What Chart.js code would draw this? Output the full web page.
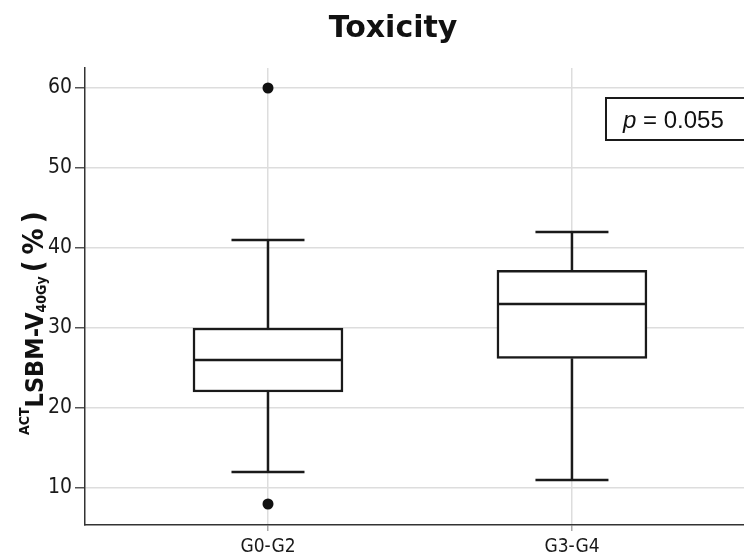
<!DOCTYPE html>
<html>
<head>
<meta charset="utf-8">
<script src="https://cdn.jsdelivr.net/npm/chart.js@4.4.1/dist/chart.umd.min.js"></script>
<style>
  html, body { margin: 0; padding: 0; background: #fff; }
  #wrap { width: 744px; height: 560px; }
</style>
</head>
<body>
<div id="wrap"><canvas id="boxChart" width="744" height="560"></canvas></div>
<script>
// box plot summary per group
const groups = ['G0-G2', 'G3-G4'];
const whiskerLow = [12, 11];
const q1 = [22, 26.2];
const median = [26, 33];
const q3 = [30, 37.2];
const whiskerHigh = [41, 42];

// outliers
const outlierGroup = ['G0-G2', 'G0-G2'];
const outlierValue = [60, 8];

const yTicks = [10, 20, 30, 40, 50, 60];
const pValue = '0.055';

const sansCond = '"DejaVu Sans Condensed", "DejaVu Sans", sans-serif';
const ink = '#1a1a1a';
const boxWidth = 150;
const capWidth = 73;

const groupPos = groups.map((g, i) => i + 1);

const boxExtras = {
    id: 'boxExtras',
    afterDatasetsDraw(chart) {
        const { ctx, scales: { x, y } } = chart;
        ctx.save();
        ctx.strokeStyle = ink;
        ctx.lineWidth = 2.5;
        const seg = (x1, y1, x2, y2) => {
            ctx.beginPath();
            ctx.moveTo(x1, y1);
            ctx.lineTo(x2, y2);
            ctx.stroke();
        };
        groups.forEach((g, i) => {
            const cx = x.getPixelForValue(groupPos[i]);
            const my = y.getPixelForValue(median[i]);
            const hy = y.getPixelForValue(whiskerHigh[i]);
            const ly = y.getPixelForValue(whiskerLow[i]);
            seg(cx - boxWidth / 2 + 1, my, cx + boxWidth / 2 - 1, my);
            seg(cx, y.getPixelForValue(q3[i]), cx, hy);
            seg(cx, y.getPixelForValue(q1[i]), cx, ly);
            seg(cx - capWidth / 2, hy, cx + capWidth / 2, hy);
            seg(cx - capWidth / 2, ly, cx + capWidth / 2, ly);
        });
        ctx.restore();
    }
};

const annotations = {
    id: 'annotations',
    afterDraw(chart) {
        const { ctx, scales: { x, y } } = chart;
        ctx.save();

        // title
        ctx.fillStyle = '#111';
        ctx.font = 'bold 30px "DejaVu Sans", sans-serif';
        ctx.textAlign = 'center';
        ctx.textBaseline = 'alphabetic';
        ctx.fillText('Toxicity', 393, 37);

        // y axis title, rotated, with super/subscripts
        const parts = [
            { text: 'ACT', size: 14, shift: -14, gap: 0 },
            { text: 'LSBM-V', size: 25, shift: 0, gap: 0 },
            { text: '40Gy', size: 14, shift: 3, gap: 0 },
            { text: '(', size: 29, shift: 0, gap: 4 },
            { text: '%', size: 29, shift: 0, gap: 6 },
            { text: ')', size: 29, shift: 0, gap: 5 }
        ];
        ctx.save();
        ctx.translate(43, 435);
        ctx.rotate(-Math.PI / 2);
        ctx.textAlign = 'left';
        let pos = 0;
        parts.forEach(p => {
            ctx.font = `bold ${p.size}px ${sansCond}`;
            pos += p.gap;
            ctx.fillText(p.text, pos, p.shift);
            pos += ctx.measureText(p.text).width;
        });
        ctx.restore();

        // p-value box
        const bx = x.getPixelForValue(2.112);
        const by = y.getPixelForValue(58.75);
        const bh = y.getPixelForValue(53.5) - by;
        ctx.fillStyle = '#fff';
        ctx.fillRect(bx, by, chart.width - bx + 10, bh);
        ctx.strokeStyle = ink;
        ctx.lineWidth = 2;
        ctx.strokeRect(bx, by, chart.width - bx + 10, bh);
        ctx.fillStyle = '#111';
        ctx.textAlign = 'left';
        ctx.font = 'italic 24px "Liberation Sans", sans-serif';
        let tx = bx + 17;
        ctx.fillText('p', tx, by + 30);
        tx += ctx.measureText('p').width;
        ctx.font = '24px "Liberation Sans", sans-serif';
        ctx.fillText(' = ' + pValue, tx, by + 30);

        ctx.restore();
    }
};

new Chart(document.getElementById('boxChart'), {
    type: 'bar',
    data: {
        datasets: [
            {
                type: 'bar',
                data: groups.map((g, i) => ({ x: groupPos[i], y: [q1[i], q3[i]] })),
                backgroundColor: '#ffffff',
                borderColor: ink,
                borderWidth: 2.5,
                borderSkipped: false,
                barThickness: boxWidth,
                grouped: false
            },
            {
                type: 'scatter',
                data: outlierGroup.map((g, k) => ({ x: groupPos[groups.indexOf(g)], y: outlierValue[k] })),
                pointRadius: 5.5,
                pointBackgroundColor: '#111',
                pointBorderWidth: 0
            }
        ]
    },
    options: {
        responsive: false,
        animation: false,
        layout: { autoPadding: false, padding: { top: 68, left: 0, right: 0, bottom: 0 } },
        plugins: {
            legend: { display: false },
            tooltip: { enabled: false }
        },
        scales: {
            x: {
                type: 'linear',
                min: 0.398,
                max: 2.566,
                offset: false,
                afterBuildTicks: s => { s.ticks = groupPos.map(v => ({ value: v })); },
                afterFit: s => {
                    s.height = 35;
                    s.paddingLeft = 0;
                    s.paddingRight = 0;
                },
                ticks: {
                    callback: v => groups[groupPos.indexOf(v)] || '',
                    color: '#1a1a1a',
                    font: { family: sansCond, size: 19 },
                    padding: 5,
                    maxRotation: 0
                },
                grid: { offset: false, color: '#dddddd', lineWidth: 1.5, tickLength: 6, tickColor: '#aaaaaa' },
                border: { display: true, color: '#333', width: 1.5 }
            },
            y: {
                min: 5.375,
                max: 62.5,
                afterBuildTicks: s => { s.ticks = yTicks.map(v => ({ value: v })); },
                afterFit: s => { s.width = 85; },
                ticks: {
                    color: '#1a1a1a',
                    font: { family: sansCond, size: 21 },
                    padding: 3
                },
                grid: { color: '#dddddd', lineWidth: 1.5, tickLength: 10, tickColor: '#555' },
                border: { display: true, color: '#333', width: 1.5 }
            }
        }
    },
    plugins: [boxExtras, annotations]
});
</script>
</body>
</html>
